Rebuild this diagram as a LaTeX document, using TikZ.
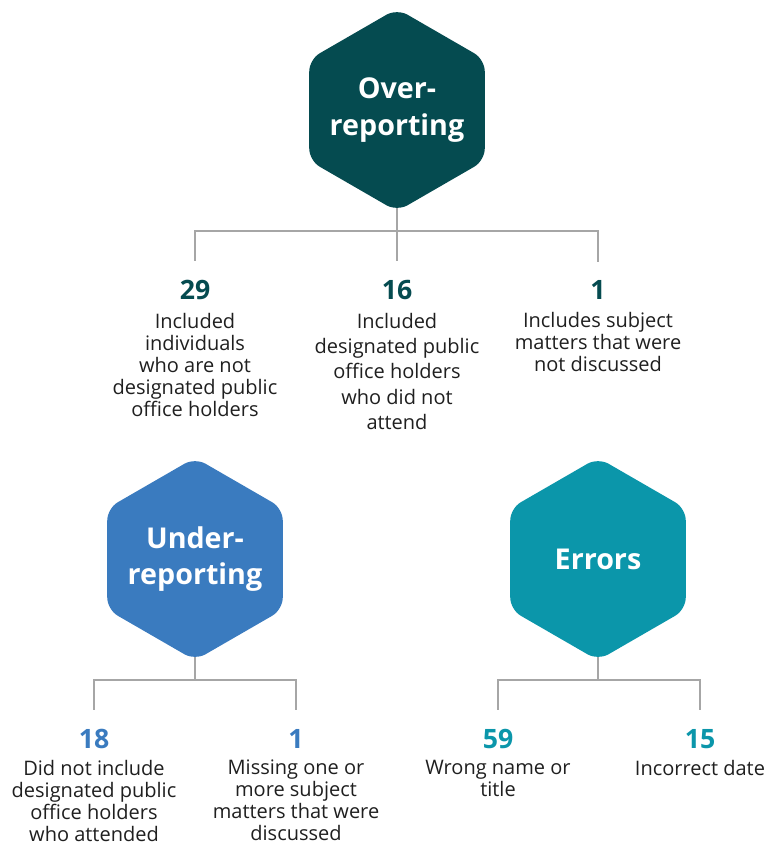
\documentclass[tikz,border=0pt]{standalone}
\usepackage{fontspec}
\setmainfont{Open Sans}
\usetikzlibrary{shapes.geometric,positioning,backgrounds}

\definecolor{overcol}{HTML}{054B50}
\definecolor{undercol}{HTML}{3A7BBF}
\definecolor{errcol}{HTML}{0B96AA}
\definecolor{linecol}{HTML}{A6A6A6}

\tikzset{
  hexa/.style={regular polygon, regular polygon sides=6, shape border rotate=90,
    minimum size=152pt, inner sep=0pt, rounded corners=9pt, fill=#1},
  hexlabel/.style={text=white, align=center,
    font=\bfseries\fontsize{21.5}{27.5}\selectfont},
  count/.style={inner sep=0pt, text=#1, font=\bfseries\fontsize{20}{22}\selectfont},
  desc/.style={inner sep=0pt, align=center, text=black!88,
    font=\fontsize{15}{16.5}\selectfont},
  conn/.style={draw=linecol, line width=1pt},
}

\begin{document}
\begin{tikzpicture}[x=0.75pt,y=-0.75pt]
    \useasboundingbox (0,0) rectangle (766,846);

    % the three groups
    \node[hexa=overcol, label={[hexlabel]center:{Over-\\reporting}}] (over) at (397,110) {};
    \node[hexa=undercol, label={[hexlabel]center:{Under-\\reporting}}] (under) at (195,559) {};
    \node[hexa=errcol, label={[hexlabel]center:Errors}] (errors) at (598,559) {};

    % over-reporting
    \node[count=overcol] (o29) at (195,290) {29};
    \node[count=overcol] (o16) at (397,290) {16};
    \node[count=overcol] (o1) at (598,290) {1};
    \node[desc, below=9.5pt of o29] {Included\\individuals\\who are not\\designated public\\office holders};
    \node[desc, below=9.5pt of o16, font=\fontsize{15}{19}\selectfont] {Included\\designated public\\office holders\\who did not\\attend};
    \node[desc, below=9.5pt of o1] {Includes subject\\matters that were\\not discussed};

    % under-reporting
    \node[count=undercol] (u18) at (94,739) {18};
    \node[count=undercol] (u1) at (296,739) {1};
    \node[desc, below=8pt of u18] {Did not include\\designated public\\office holders\\who attended};
    \node[desc, below=8pt of u1] {Missing one or\\more subject\\matters that were\\discussed};

    % errors
    \node[count=errcol] (e59) at (498,739) {59};
    \node[count=errcol] (e15) at (700,739) {15};
    \node[desc, below=8pt of e59] {Wrong name or\\title};
    \node[desc, below=8pt of e15] {Incorrect date};

    % connectors
    \coordinate (overfork) at (397,231);
    \coordinate (underfork) at (195,680);
    \coordinate (errfork) at (598,680);
    \begin{scope}[on background layer]
        \draw[conn] (over.center) -- (overfork);
        \draw[conn, shorten >=14pt] (overfork) -| (o29);
        \draw[conn, shorten >=14pt] (overfork) -- (o16);
        \draw[conn, shorten >=14pt] (overfork) -| (o1);
        \draw[conn] (under.center) -- (underfork);
        \draw[conn, shorten >=14.5pt] (underfork) -| (u18);
        \draw[conn, shorten >=14.5pt] (underfork) -| (u1);
        \draw[conn] (errors.center) -- (errfork);
        \draw[conn, shorten >=14.5pt] (errfork) -| (e59);
        \draw[conn, shorten >=14.5pt] (errfork) -| (e15);
    \end{scope}
\end{tikzpicture}
\end{document}
